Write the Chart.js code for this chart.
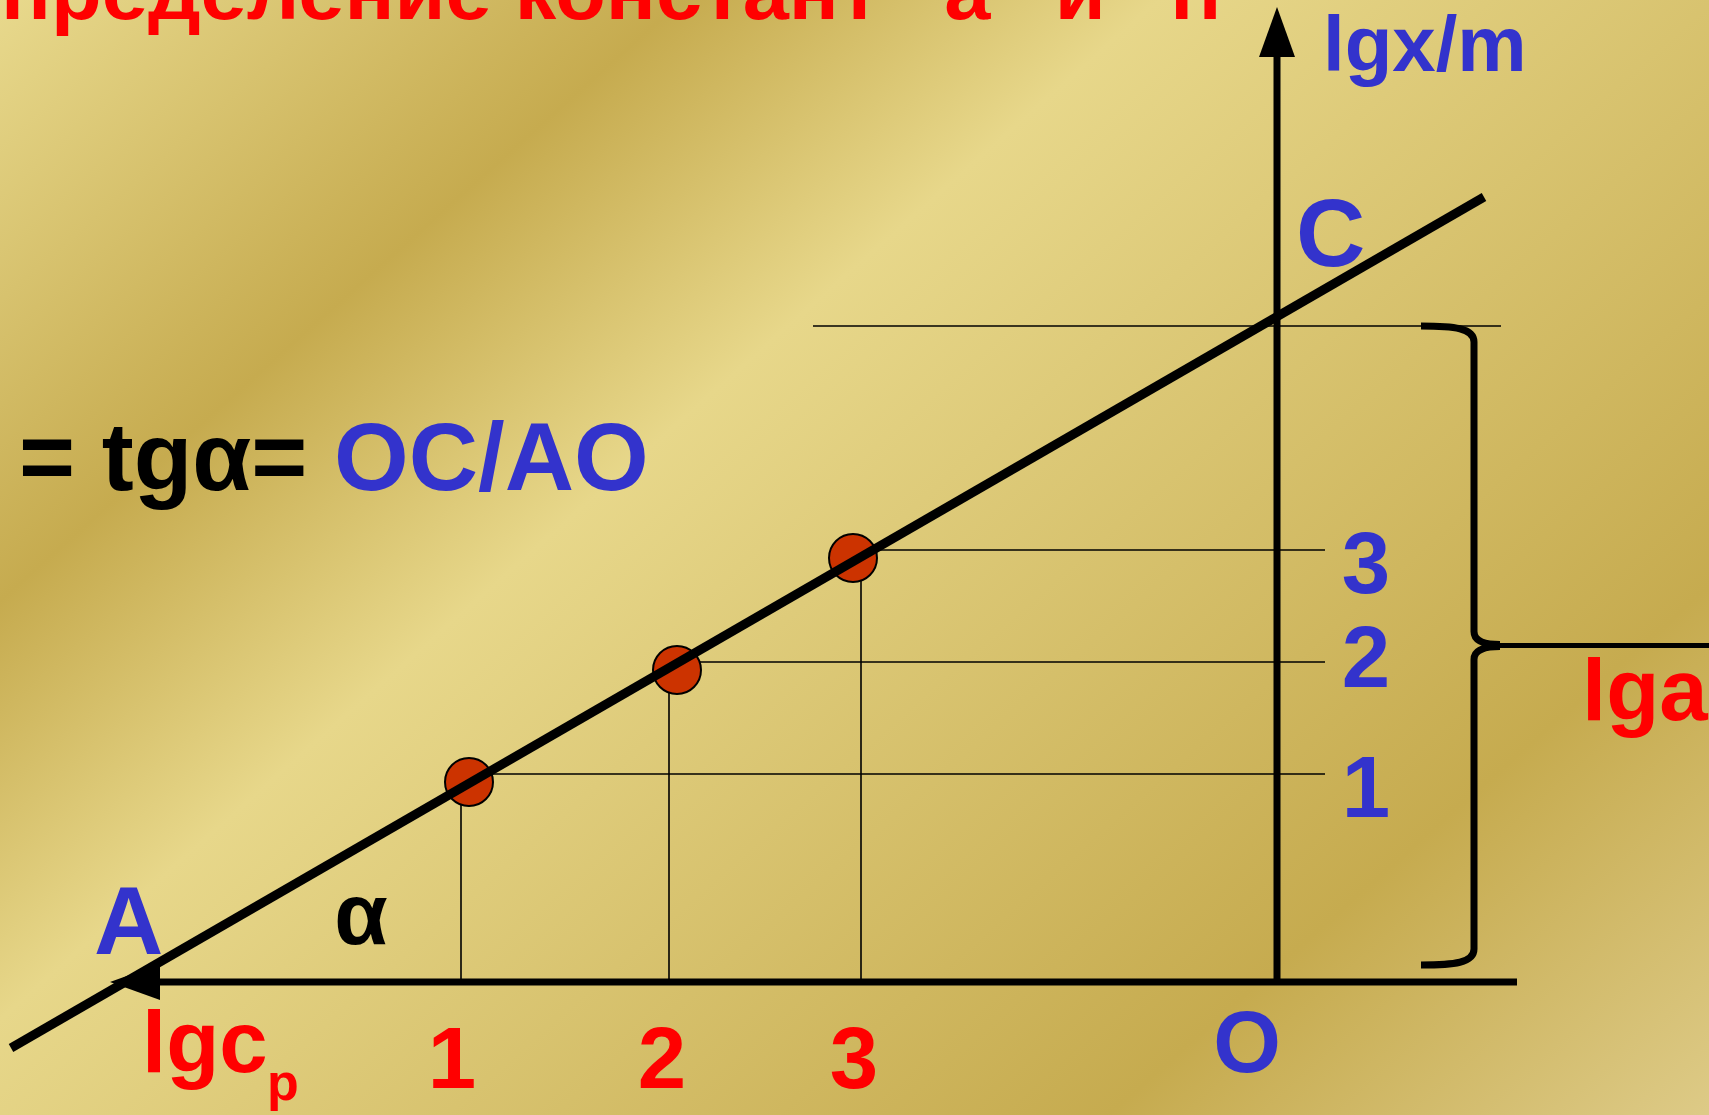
<!DOCTYPE html>
<html lang="ru">
<head>
<meta charset="utf-8">
<title>Определение констант a и n</title>
<script src="https://cdn.jsdelivr.net/npm/chart.js@4.4.1/dist/chart.umd.min.js"></script>
<style>
  html, body { margin: 0; padding: 0; overflow: hidden; background: #d9c272; }
  #wrap { position: relative; width: 1709px; height: 1115px; }
</style>
</head>
<body>
<div id="wrap"><canvas id="chart"></canvas></div>
<script>
// экспериментальные точки (lg c, lg x/m)
const pointLgc = [-8.08, -6.00, -4.24];
const pointLgx = [2.00, 3.12, 4.24];

// вспомогательные линии к осям
const guideLgc = [-8.16, -6.08, -4.16];
const guideLgx = [2.08, 3.20, 4.32];
const guideEndLgc = 0.48;

// прямая lg x/m = lg a + (1/n) lg c
const fitLgc = [-12.66, 2.07];
const fitLgx = [-0.66, 7.85];

// отрезок lg a (точка C на оси ординат)
const interceptLgx = 6.56;
const interceptFrom = -4.64;
const interceptTo = 2.24;

// оси
const axisLgcFrom = -11.67, axisLgcTo = 2.40;
const axisLgxTo = 9.75;

// подписи
const xTickLabels = ['1', '2', '3'];
const yTickLabels = ['1', '2', '3'];

const BLUE = '#3333cc', RED = '#ff0000', BLACK = '#000000';
const FONT = '"Liberation Sans", Arial, sans-serif';

const canvas = document.getElementById('chart');
canvas.width = 1709;
canvas.height = 1115;

const seg = (x1, y1, x2, y2) => [{ x: x1, y: y1 }, { x: x2, y: y2 }];

const lineSet = (data, width) => ({
    data: data,
    showLine: true,
    borderColor: BLACK,
    borderWidth: width,
    pointRadius: 0,
    fill: false,
    tension: 0
});

const datasets = [];
// прямая сверху всего остального
datasets.push(lineSet(seg(fitLgc[0], fitLgx[0], fitLgc[1], fitLgx[1]), 9));
datasets.push({
    data: pointLgc.map((x, i) => ({ x: x, y: pointLgx[i] })),
    showLine: false,
    pointRadius: 24,
    pointBackgroundColor: '#cc3300',
    pointBorderColor: BLACK,
    pointBorderWidth: 2
});
guideLgc.forEach((x, i) => {
    datasets.push(lineSet(seg(x, guideLgx[i], guideEndLgc, guideLgx[i]), 1.6));
    datasets.push(lineSet(seg(x, guideLgx[i], x, 0), 1.6));
});
datasets.push(lineSet(seg(interceptFrom, interceptLgx, interceptTo, interceptLgx), 1.6));

// фон слайда
const backgroundPlugin = {
    id: 'slideBackground',
    beforeDraw(chart) {
        const ctx = chart.ctx;
        const g = ctx.createLinearGradient(0, 0, 1296, 1473);
        g.addColorStop(0.00, '#e8d98d');
        g.addColorStop(0.23, '#c6ab4f');
        g.addColorStop(0.39, '#e7d78a');
        g.addColorStop(0.80, '#c6ab4f');
        g.addColorStop(1.00, '#ddca86');
        ctx.save();
        ctx.fillStyle = g;
        ctx.fillRect(0, 0, chart.width, chart.height);
        ctx.restore();
    }
};

// оси со стрелками
const axesPlugin = {
    id: 'axesArrows',
    beforeDatasetsDraw(chart) {
        const ctx = chart.ctx;
        const xs = chart.scales.x, ys = chart.scales.y;
        const ox = xs.getPixelForValue(0), oy = ys.getPixelForValue(0);
        const xTip = xs.getPixelForValue(axisLgcFrom);
        const xEnd = xs.getPixelForValue(axisLgcTo);
        const yTip = ys.getPixelForValue(axisLgxTo);
        const len = 50, half = 18;
        ctx.save();
        ctx.strokeStyle = BLACK;
        ctx.fillStyle = BLACK;
        ctx.lineWidth = 7;
        ctx.beginPath();
        ctx.moveTo(xEnd, oy);
        ctx.lineTo(xTip + len, oy);
        ctx.moveTo(ox, oy + 3);
        ctx.lineTo(ox, yTip + len);
        ctx.stroke();
        ctx.beginPath();
        ctx.moveTo(xTip, oy);
        ctx.lineTo(xTip + len, oy - half);
        ctx.lineTo(xTip + len, oy + half);
        ctx.closePath();
        ctx.fill();
        ctx.beginPath();
        ctx.moveTo(ox, yTip);
        ctx.lineTo(ox - half, yTip + len);
        ctx.lineTo(ox + half, yTip + len);
        ctx.closePath();
        ctx.fill();
        ctx.restore();
    }
};

// фигурная скобка lg a и все надписи
const labelsPlugin = {
    id: 'slideLabels',
    afterDraw(chart) {
        const ctx = chart.ctx;
        const xs = chart.scales.x, ys = chart.scales.y;
        const top = ys.getPixelForValue(interceptLgx);
        const bottom = ys.getPixelForValue(0.17);
        const mid = (top + bottom) / 2;
        const spine = xs.getPixelForValue(1.97);
        const tail = xs.getPixelForValue(1.44);

        ctx.save();
        ctx.strokeStyle = BLACK;
        ctx.lineWidth = 7;
        ctx.lineCap = 'butt';
        ctx.beginPath();
        ctx.moveTo(tail, top);
        ctx.bezierCurveTo(spine - 20, top, spine, top + 2, spine, top + 16);
        ctx.lineTo(spine, mid - 14);
        ctx.quadraticCurveTo(spine, mid - 1, spine + 26, mid - 1);
        ctx.moveTo(spine + 26, mid + 1);
        ctx.quadraticCurveTo(spine, mid + 1, spine, mid + 14);
        ctx.lineTo(spine, bottom - 16);
        ctx.bezierCurveTo(spine, bottom - 2, spine - 20, bottom, tail, bottom);
        ctx.stroke();
        ctx.lineWidth = 5;
        ctx.beginPath();
        ctx.moveTo(spine + 10, mid);
        ctx.lineTo(chart.width, mid);
        ctx.stroke();

        const text = (s, x, y, size, color, align) => {
            ctx.font = 'bold ' + size + 'px ' + FONT;
            ctx.fillStyle = color;
            ctx.textAlign = align || 'left';
            ctx.textBaseline = 'alphabetic';
            ctx.fillText(s, x, y);
        };

        // заголовок, уходящий за край слайда
        ctx.save();
        ctx.font = 'bold 80px ' + FONT;
        const title = 'Определение констант “a” и “n”';
        const wFirst = ctx.measureText('О').width;
        const wBody = ctx.measureText('пределение констант “a” и “n').width;
        const sx = 1220 / wBody;
        ctx.scale(sx, 1);
        ctx.fillStyle = RED;
        ctx.textAlign = 'left';
        ctx.textBaseline = 'alphabetic';
        ctx.fillText(title, -wFirst + 1 / sx, 19);
        ctx.restore();

        // формула
        ctx.font = 'bold 96px ' + FONT;
        const lead = '= tgα= ';
        text(lead, 19, 490, 96, BLACK);
        text('OC/AO', 19 + ctx.measureText(lead).width, 490, 96, BLUE);

        text('lgx/m', 1323, 71, 78, BLUE);
        text('C', 1296, 266, 96, BLUE);
        text('A', 94, 954, 96, BLUE);
        text('α', 361, 944, 87, BLACK, 'center');
        text('O', 1247, 1072, 87, BLUE, 'center');
        text('lgc', 142, 1072, 87, RED);
        text('p', 267, 1100, 52, RED);
        text('lga', 1582, 720, 87, RED);

        const xLabelShift = [-9, -7, -7];
        xTickLabels.forEach((s, i) => {
            text(s, xs.getPixelForValue(guideLgc[i]) + xLabelShift[i], 1088, 87, RED, 'center');
        });
        const yLabelDrop = [43, 25, 43];
        yTickLabels.forEach((s, i) => {
            text(s, 1366, ys.getPixelForValue(guideLgx[i]) + yLabelDrop[i], 87, BLUE, 'center');
        });
        ctx.restore();
    }
};

new Chart(canvas, {
    type: 'scatter',
    data: { datasets: datasets },
    options: {
        responsive: false,
        animation: false,
        events: [],
        layout: { padding: 0, autoPadding: false },
        plugins: {
            legend: { display: false },
            tooltip: { enabled: false }
        },
        scales: {
            x: { type: 'linear', display: false, min: -12.77, max: 4.32 },
            y: { type: 'linear', display: false, min: -1.33, max: 9.82 }
        }
    },
    plugins: [backgroundPlugin, axesPlugin, labelsPlugin]
});
</script>
</body>
</html>
